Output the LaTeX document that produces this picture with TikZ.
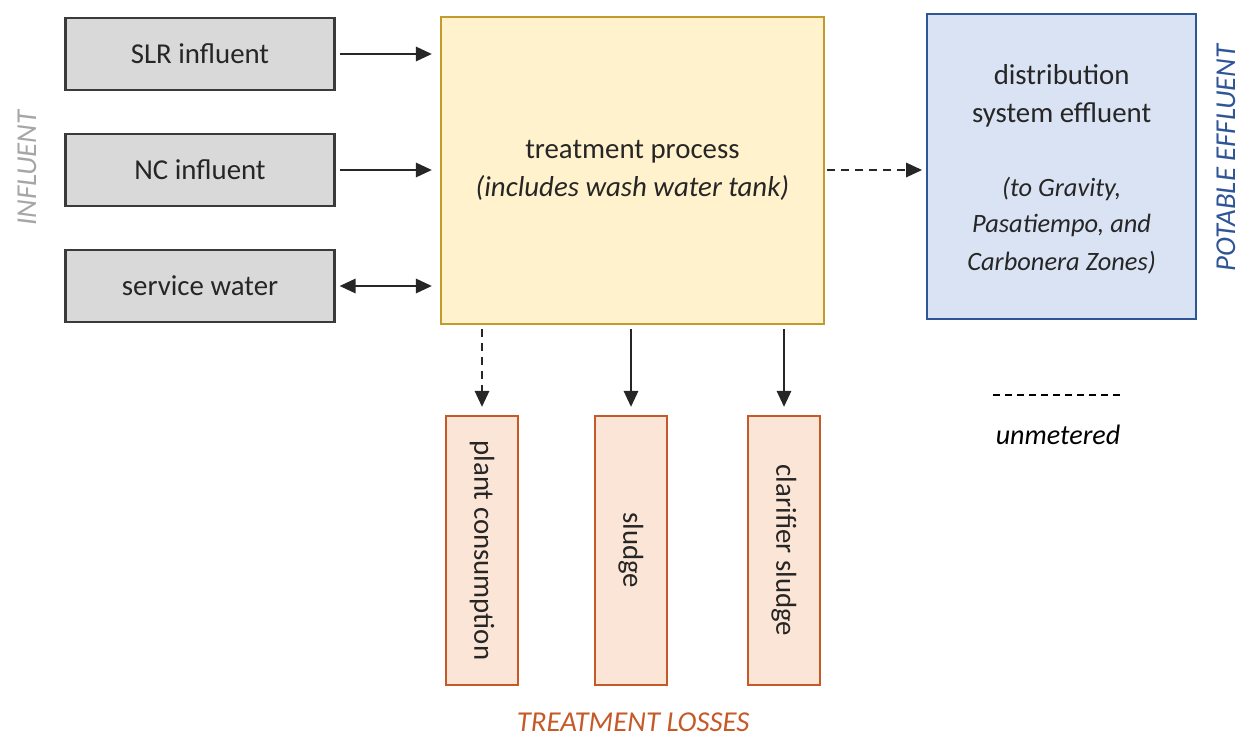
\documentclass[tikz,border=0pt]{standalone}
\usepackage{fontspec}
\setmainfont{Carlito}
\usepackage{tikz}
\usetikzlibrary{positioning,calc,arrows.meta}
\definecolor{txtdark}{HTML}{262626}
\definecolor{infill}{HTML}{D9D9D9}
\definecolor{indraw}{HTML}{3A3A3A}
\definecolor{tpfill}{HTML}{FFF2CC}
\definecolor{tpdraw}{HTML}{C49A2C}
\definecolor{effill}{HTML}{DAE3F3}
\definecolor{efdraw}{HTML}{2F5597}
\definecolor{lsfill}{HTML}{FBE5D6}
\definecolor{lsdraw}{HTML}{C55A28}
\definecolor{ingray}{HTML}{A6A6A6}

\begin{document}
\begin{tikzpicture}[
  font=\fontsize{20.5}{27}\selectfont\color{txtdark},
  inbox/.style={draw=indraw, fill=infill, line width=1.6pt, minimum width=6.725cm, minimum height=1.8cm, inner sep=0pt},
  tpbox/.style={draw=tpdraw, fill=tpfill, line width=1.5pt, minimum width=9.575cm, minimum height=7.675cm, align=center},
  efbox/.style={draw=efdraw, fill=effill, line width=1.5pt, minimum width=6.725cm, minimum height=7.625cm, align=center},
  lsbox/.style={draw=lsdraw, fill=lsfill, line width=1.5pt, minimum width=6.725cm, minimum height=1.8cm, inner sep=0pt, rotate=-90},
  flow/.style={line width=1.4pt, color=txtdark, -{Triangle[length=0.4cm,width=0.36cm]}, shorten <=0.1cm, shorten >=0.2cm},
  unmet/.style={dash pattern=on 0.2cm off 0.15cm},
  sidelbl/.style={font=\fontsize{20.5}{26}\selectfont\itshape, rotate=90, anchor=base, inner sep=0pt},
]
\useasboundingbox (0,0) rectangle (31.1,-18.625);

% influent side
\node[inbox] (slr) at (5.0,-1.35) {SLR influent};
\node[inbox] (nc)  at (5.0,-4.25) {NC influent};
\node[inbox] (svc) at (5.0,-7.15) {service water};
\node[sidelbl, text=ingray] (inlbl) at (0.9,-4.2) {INFLUENT};

% treatment and effluent
\node[tpbox] (tp) at (15.81,-4.26) {\rule{0pt}{0.2cm}treatment process\\\textit{(includes wash water tank)}};
\node[efbox] (dist) at (26.54,-4.16) {%
  \begin{minipage}[c][7.3cm][t]{6.2cm}\centering
  \vspace{1.1cm}distribution\\system effluent\\[0.95cm]
  {\fontsize{18.8}{25.5}\selectfont\itshape (to Gravity,\\Pasatiempo, and\\Carbonera Zones)}
  \end{minipage}};
\node[sidelbl, text=efdraw] (eflbl) at (30.88,-3.95) {POTABLE EFFLUENT};

\draw[flow] (slr.east) -- (slr.east -| tp.west);
\draw[flow] (nc.east) -- (nc.east -| tp.west);
\draw[flow, {Triangle[length=0.4cm,width=0.36cm]}-{Triangle[length=0.4cm,width=0.36cm]}] (svc.east) -- (svc.east -| tp.west);
\draw[flow, unmet, shorten <=0.05cm, shorten >=0.1cm] (tp.east |- 0,-4.25) -- (dist.west |- 0,-4.25);

% treatment losses
\foreach \nm/\xx/\lbl in {pc/12.05/plant consumption, sl/15.775/sludge, cs/19.6/clarifier sludge} {
  \node[lsbox] (\nm) at (\xx,-13.76) {\lbl};
}
\draw[flow, unmet] (tp.south -| pc) -- (pc.west);
\draw[flow] (tp.south -| sl) -- (sl.west);
\draw[flow] (tp.south -| cs) -- (cs.west);
\node[font=\fontsize{20.5}{26}\selectfont\itshape, text=lsdraw, inner sep=0pt] (lslbl) at (15.83,-18.05) {TREATMENT LOSSES};

% legend
\coordinate (lga) at (24.83,-9.875);
\coordinate (lgb) at (28.13,-9.875);
\draw[line width=1pt, dash pattern=on 0.17cm off 0.13cm] (lga) -- (lgb);
\node[font=\fontsize{20}{24}\selectfont\itshape] (lgtxt) at (26.45,-10.88) {unmetered};
\end{tikzpicture}
\end{document}
